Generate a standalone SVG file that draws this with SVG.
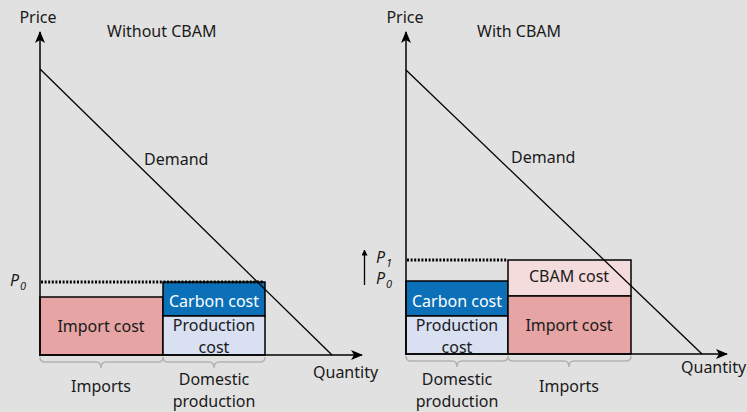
<svg xmlns="http://www.w3.org/2000/svg" width="747" height="412" viewBox="0 0 747 412">
<defs>
<marker id="ah" markerWidth="12" markerHeight="10" refX="11" refY="5" orient="auto" markerUnits="userSpaceOnUse">
<path d="M0,0 L12,5 L0,10 L3,5 Z" fill="#000"/>
</marker>
<marker id="sah" markerWidth="6" markerHeight="6" refX="5.5" refY="3" orient="auto" markerUnits="userSpaceOnUse">
<path d="M0,0 L6,3 L0,6 Z" fill="#000"/>
</marker>
<style>
text{font-family:"Noto Sans","Open Sans",sans-serif;font-size:16px;fill:#1a1a1a}
.c{text-anchor:middle}
.w{fill:#ffffff}
.it{font-style:italic}
.sub{font-size:11px;font-style:italic}
.axis{stroke:#000;stroke-width:1.5;fill:none}
.dem{stroke:#000;stroke-width:1.3;fill:none}
.dot{stroke:#000;stroke-width:3;stroke-dasharray:2,1.6;fill:none}
.box{stroke:#000;stroke-width:1.5}
.imp{fill:#e6a4a4}
.car{fill:#0b70b8}
.pro{fill:#d8e0f2}
.cbam{fill:#f5dcdc}
.brace{stroke:#b3b3b3;stroke-width:1.5;fill:none}
</style>
</defs>
<rect width="747" height="412" fill="#e1e1e1"/>

<g id="left-panel">
<text x="107" y="37">Without CBAM</text>
<g id="left-import-cost"><rect class="box imp" x="40" y="297" width="123" height="58"/><text class="c" x="101" y="332">Import cost</text></g>
<g id="left-carbon-cost"><rect class="box car" x="163" y="282" width="102" height="34"/><text class="c w" x="214" y="307">Carbon cost</text></g>
<g id="left-production-cost"><rect class="box pro" x="163" y="316" width="102" height="39"/><text class="c" x="214" y="331">Production</text><text class="c" x="214" y="353">cost</text></g>
<g id="left-connectors">
<line class="dot" x1="41" y1="282" x2="264" y2="282"/>
<line class="axis" x1="40" y1="356" x2="40" y2="32" marker-end="url(#ah)"/>
<line class="axis" x1="39" y1="355" x2="362" y2="355" marker-end="url(#ah)"/>
<line class="dem" x1="40" y1="69" x2="332" y2="355"/>
<path class="brace" d="M40,357 Q40,362 45,362 L96,362 Q101,362 101,368 Q101,362 106,362 L158,362 Q163,362 163,357"/>
<path class="brace" d="M163,357 Q163,362 168,362 L209,362 Q214,362 214,368 Q214,362 219,362 L260,362 Q265,362 265,357"/>
</g>
<text class="c" x="38" y="23">Price</text>
<text x="144" y="165">Demand</text>
<text x="313" y="378">Quantity</text>
<text class="it" x="10" y="286">P</text><text class="sub" x="20" y="290">0</text>
<text class="c" x="101" y="392">Imports</text>
<text class="c" x="214" y="385">Domestic</text>
<text class="c" x="214" y="407">production</text>
</g>

<g id="right-panel">
<text x="477" y="37">With CBAM</text>
<g id="right-carbon-cost"><rect class="box car" x="406" y="281" width="102" height="35"/><text class="c w" x="457" y="307">Carbon cost</text></g>
<g id="right-production-cost"><rect class="box pro" x="406" y="316" width="102" height="38"/><text class="c" x="457" y="331">Production</text><text class="c" x="457" y="353">cost</text></g>
<g id="right-cbam-cost"><rect class="box cbam" x="508" y="260" width="123" height="36"/><text class="c" x="569" y="282">CBAM cost</text></g>
<g id="right-import-cost"><rect class="box imp" x="508" y="296" width="123" height="58"/><text class="c" x="569" y="331">Import cost</text></g>
<g id="right-connectors">
<line class="dot" x1="407" y1="260" x2="507" y2="260"/>
<line class="axis" x1="406" y1="355" x2="406" y2="32" marker-end="url(#ah)"/>
<line class="axis" x1="405" y1="354" x2="727" y2="354" marker-end="url(#ah)"/>
<line class="dem" x1="406" y1="70" x2="702" y2="354"/>
<line x1="364.5" y1="285" x2="364.5" y2="250" stroke="#000" stroke-width="1.3" marker-end="url(#sah)"/>
<path class="brace" d="M406,356 Q406,361 411,361 L452,361 Q457,361 457,367 Q457,361 462,361 L503,361 Q508,361 508,356"/>
<path class="brace" d="M508,356 Q508,361 513,361 L564,361 Q569,361 569,367 Q569,361 574,361 L626,361 Q631,361 631,356"/>
</g>
<text class="c" x="405" y="23">Price</text>
<text x="511" y="163">Demand</text>
<text x="681" y="373">Quantity</text>
<text class="it" x="376" y="263">P</text><text class="sub" x="386" y="267">1</text>
<text class="it" x="376" y="284">P</text><text class="sub" x="386" y="288">0</text>
<text class="c" x="457" y="385">Domestic</text>
<text class="c" x="457" y="407">production</text>
<text class="c" x="569" y="392">Imports</text>
</g>
</svg>
